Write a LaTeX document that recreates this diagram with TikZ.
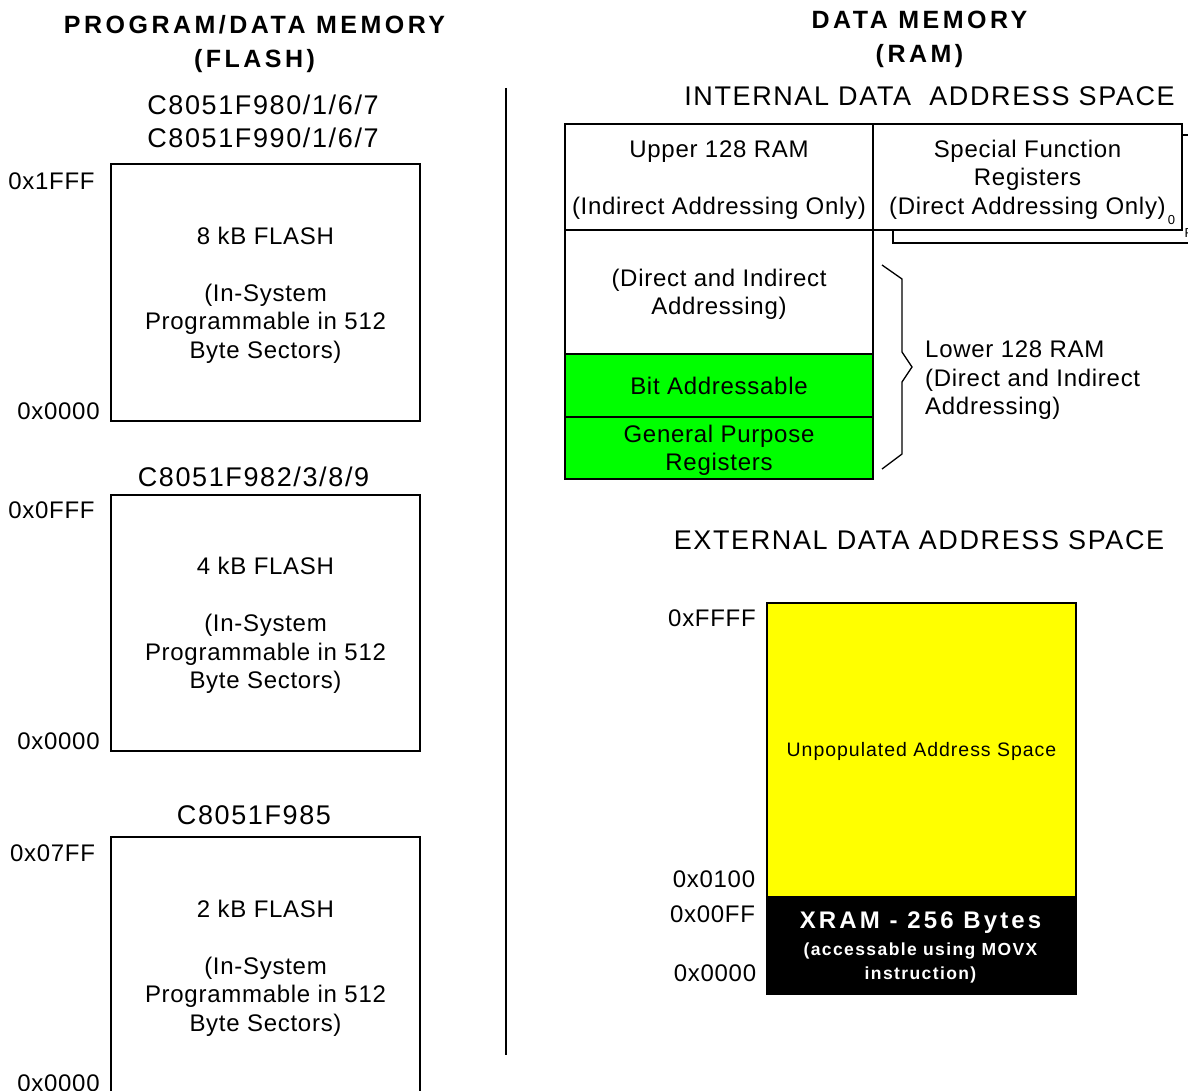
\documentclass[tikz,border=0pt]{standalone}
\usepackage{fontspec}
\setmainfont{Liberation Sans}
\newfontfamily\bodyf[LetterSpace=3]{Liberation Sans}
\newfontfamily\headf[LetterSpace=6]{Liberation Sans}
\newfontfamily\titlef[LetterSpace=14]{Liberation Sans}
\newfontfamily\xramf[LetterSpace=13]{Liberation Sans}
\newfontfamily\xsmallf[LetterSpace=8]{Liberation Sans}
\newfontfamily\unpopf[LetterSpace=5]{Liberation Sans}
\newcommand\lnstrut{\rule[-0.22em]{0pt}{1.156em}}
\definecolor{grn}{RGB}{0,255,0}
\definecolor{ylw}{RGB}{255,255,0}
\begin{document}
\begin{tikzpicture}[x=1pt,y=-1pt,
  bodyfont/.style={font=\bodyf\fontsize{24}{28.5}\selectfont},
  box/.style={draw, line width=2pt, inner sep=0pt, align=center, bodyfont, anchor=north west},
  txt/.style={inner sep=0pt, align=center, bodyfont},
  head/.style={inner sep=0pt, align=center, font=\headf\fontsize{27}{33}\selectfont},
  title/.style={inner sep=0pt, align=center, font=\titlef\bfseries\fontsize{25}{34}\selectfont},
  tiny/.style={inner sep=0pt, font=\bodyf\fontsize{13}{15}\selectfont},
]
\useasboundingbox (0,0) rectangle (1188,1091);

% titles
\node[title] (tl) at (254.5,41.5) {\lnstrut PROGRAM/DATA MEMORY\\\lnstrut (FLASH)};
\node[title] (tr) at (919.5,37) {\lnstrut DATA MEMORY\\\lnstrut (RAM)};

% divider
\draw[line width=1.5pt] (506,88) -- (506,1055);

% left headings
\node[head] (h1) at (263,121.5) {\lnstrut C8051F980/1/6/7\\\lnstrut C8051F990/1/6/7};
\node[head] (h2) at (253.5,477) {\lnstrut C8051F982/3/8/9};
\node[head] (h3) at (254,815) {\lnstrut C8051F985};

% flash boxes
\node[box, minimum width=309pt, minimum height=257pt] (f1) at (110,163)
  {\lnstrut 8 kB FLASH\\[28.5pt]\lnstrut (In-System\\\lnstrut Programmable in 512\\\lnstrut Byte Sectors)};
\node[box, minimum width=309pt, minimum height=256pt] (f2) at (110,494)
  {\lnstrut 4 kB FLASH\\[28.5pt]\lnstrut (In-System\\\lnstrut Programmable in 512\\\lnstrut Byte Sectors)};
\node[box, minimum width=309pt, minimum height=257pt] (f3) at (110,836)
  {\lnstrut 2 kB FLASH\\[28.5pt]\lnstrut (In-System\\\lnstrut Programmable in 512\\\lnstrut Byte Sectors)};

% left addresses
\node[txt] (a1) at (51.5,181) {\lnstrut 0x1FFF};
\node[txt] (a2) at (58.5,411) {\lnstrut 0x0000};
\node[txt] (a3) at (51.5,510) {\lnstrut 0x0FFF};
\node[txt] (a4) at (58.5,741) {\lnstrut 0x0000};
\node[txt] (a5) at (52.5,853) {\lnstrut 0x07FF};
\node[txt] (a6) at (58.5,1083) {\lnstrut 0x0000};

% internal data address space
\node[head] (hi) at (929.5,96) {\lnstrut INTERNAL DATA~~ADDRESS SPACE};
\node[draw, line width=2pt, inner sep=0pt, minimum width=330pt, minimum height=108pt, anchor=north west] (sfrb) at (892,134) {};
\node[box, fill=white, minimum width=309pt, minimum height=106pt] (sfr) at (872,123)
  {\lnstrut Special Function\\\lnstrut Registers\\\lnstrut (Direct Addressing Only)};
\node[box, minimum width=308pt, minimum height=106pt] (u128) at (564,123)
  {\lnstrut Upper 128 RAM\\[28.5pt]\lnstrut (Indirect Addressing Only)};
\node[box, minimum width=308pt, minimum height=124pt] (dai) at (564,229)
  {\lnstrut (Direct and Indirect\\\lnstrut Addressing)};
\node[box, fill=grn, minimum width=308pt, minimum height=63pt] (bit) at (564,353)
  {\lnstrut Bit Addressable};
\node[box, fill=grn, minimum width=308pt, minimum height=62pt] (gpr) at (564,416)
  {\lnstrut General Purpose\\\lnstrut Registers};
\node[tiny] (s0) at (1171.5,220) {0};
\node[tiny, anchor=west] (sF) at (1184.5,233) {F};

% brace
\draw[line width=1.3pt, line join=miter] (882,265) -- (902,279) -- (902,352) -- (912,367) -- (902,382) -- (902,454) -- (882,469);
\node[txt, align=left, anchor=west] (low) at (925,377.5)
  {\lnstrut Lower 128 RAM\\\lnstrut (Direct and Indirect\\\lnstrut Addressing)};

% external data address space
\node[head] (he) at (919,540) {\lnstrut EXTERNAL DATA ADDRESS SPACE};
\node[box, fill=ylw, minimum width=309pt, minimum height=294pt, font=\unpopf\fontsize{19.5}{24}\selectfont] (unpop) at (766,602)
  {\lnstrut Unpopulated Address Space};
\node[box, fill=black, minimum width=309pt, minimum height=97pt] (xram) at (766,896) {};
\node[inner sep=0pt, align=center, text=white, font=\xramf\bfseries\fontsize{24}{28}\selectfont] (xt1) at (920.5,920) {\lnstrut XRAM - 256 Bytes};
\node[inner sep=0pt, align=center, text=white, font=\xsmallf\bfseries\fontsize{17.5}{24}\selectfont] (xt2) at (920.5,961) {\lnstrut (accessable using MOVX\\\lnstrut instruction)};

% right addresses
\node[txt] (b1) at (712,618) {\lnstrut 0xFFFF};
\node[txt] (b2) at (714,879) {\lnstrut 0x0100};
\node[txt] (b3) at (712.5,914) {\lnstrut 0x00FF};
\node[txt] (b4) at (715,973) {\lnstrut 0x0000};
\end{tikzpicture}
\end{document}
